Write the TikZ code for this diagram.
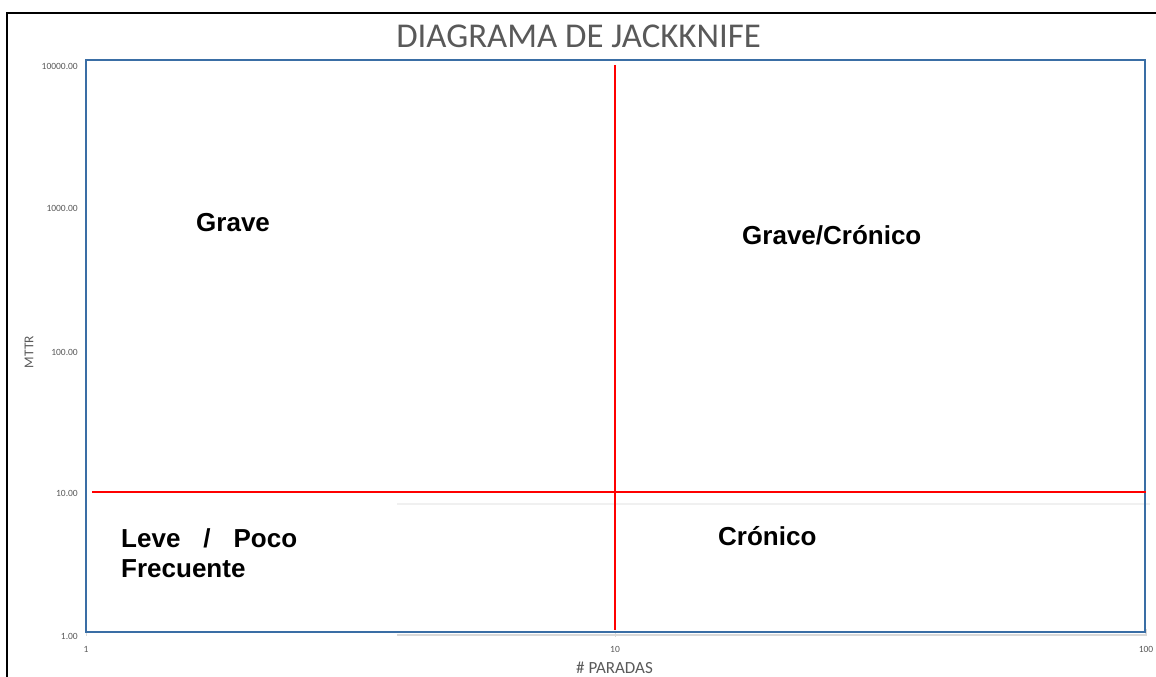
\documentclass[tikz,border=0pt]{standalone}
\usepackage{fontspec}
\setmainfont{Liberation Sans}
\newfontfamily\calibri{Carlito}
\usetikzlibrary{positioning}
\definecolor{plotblue}{RGB}{58,110,165}
\definecolor{axisgray}{RGB}{89,89,89}
\definecolor{gridgray}{RGB}{217,217,217}
\definecolor{palegray}{RGB}{240,240,240}
\tikzset{
  ticklabel/.style={font=\calibri\fontsize{9.5}{11}\selectfont, text=axisgray, inner sep=0pt},
  zone/.style={font=\fontsize{26}{30}\selectfont\bfseries, inner sep=0pt, anchor=base west},
  limit/.style={red, line width=1.5pt},
}

\begin{document}
\begin{tikzpicture}[x=1pt, y=-1pt]
  \useasboundingbox (0,0) rectangle (1156,677);
  % outer frame
  \draw[line width=2.5pt] (7,677) -- (7,13) -- (1156,13);
  \node[font=\calibri\fontsize{34.8}{38}\selectfont, text=axisgray, inner sep=0pt, anchor=base] (title) at (578.5,48) {DIAGRAMA DE JACKKNIFE};

  % plot area
  \coordinate (sw) at (86,632);
  \coordinate (ne) at (1145,60);
  \draw[palegray, line width=2pt] (397,504) -- (1150,504);
  \draw[gridgray, line width=1.2pt] (397,635) -- (1146,635) -- (1146,629);
  \draw[gridgray, line width=1pt] (86,632) -- (86,636) (615,632) -- (615,637);
  \draw[plotblue, line width=1.5pt] (sw) rectangle (ne);

  % limits
  \coordinate (hl) at (92,492);
  \coordinate (hr) at (1146,492);
  \coordinate (vt) at (615,65);
  \coordinate (vb) at (615,630);
  \draw[limit] (hl) -- (hr);
  \draw[limit] (vt) -- (vb);

  % axes
  \foreach \lab/\y [count=\i] in {10000.00/66, 1000.00/208, 100.00/352, 10.00/493, 1.00/636}
    \node[ticklabel, anchor=east] (ytick\i) at (78,\y) {\lab};
  \foreach \lab/\x [count=\i] in {1/86, 10/615, 100/1146}
    \node[ticklabel] (xtick\i) at (\x,649) {\lab};
  \node[font=\calibri\fontsize{17}{20}\selectfont, text=axisgray, inner sep=0pt] (xtitle) at (614.5,668) {\# PARADAS};
  \node[font=\calibri\fontsize{13.5}{16}\selectfont, text=axisgray, inner sep=0pt, rotate=90] (ytitle) at (29,352) {MTTR};

  % quadrants
  \node[zone] (grave) at (196,231) {Grave};
  \node[zone] (gravecron) at (742,244) {Grave/Crónico};
  \node[zone] (cronico) at (718,545) {Crónico};
  \node[zone] (leve) at (121,547) {\makebox[176pt][s]{Leve / Poco}};
  \node[zone] (frecuente) at (121,577) {Frecuente};
\end{tikzpicture}
\end{document}
